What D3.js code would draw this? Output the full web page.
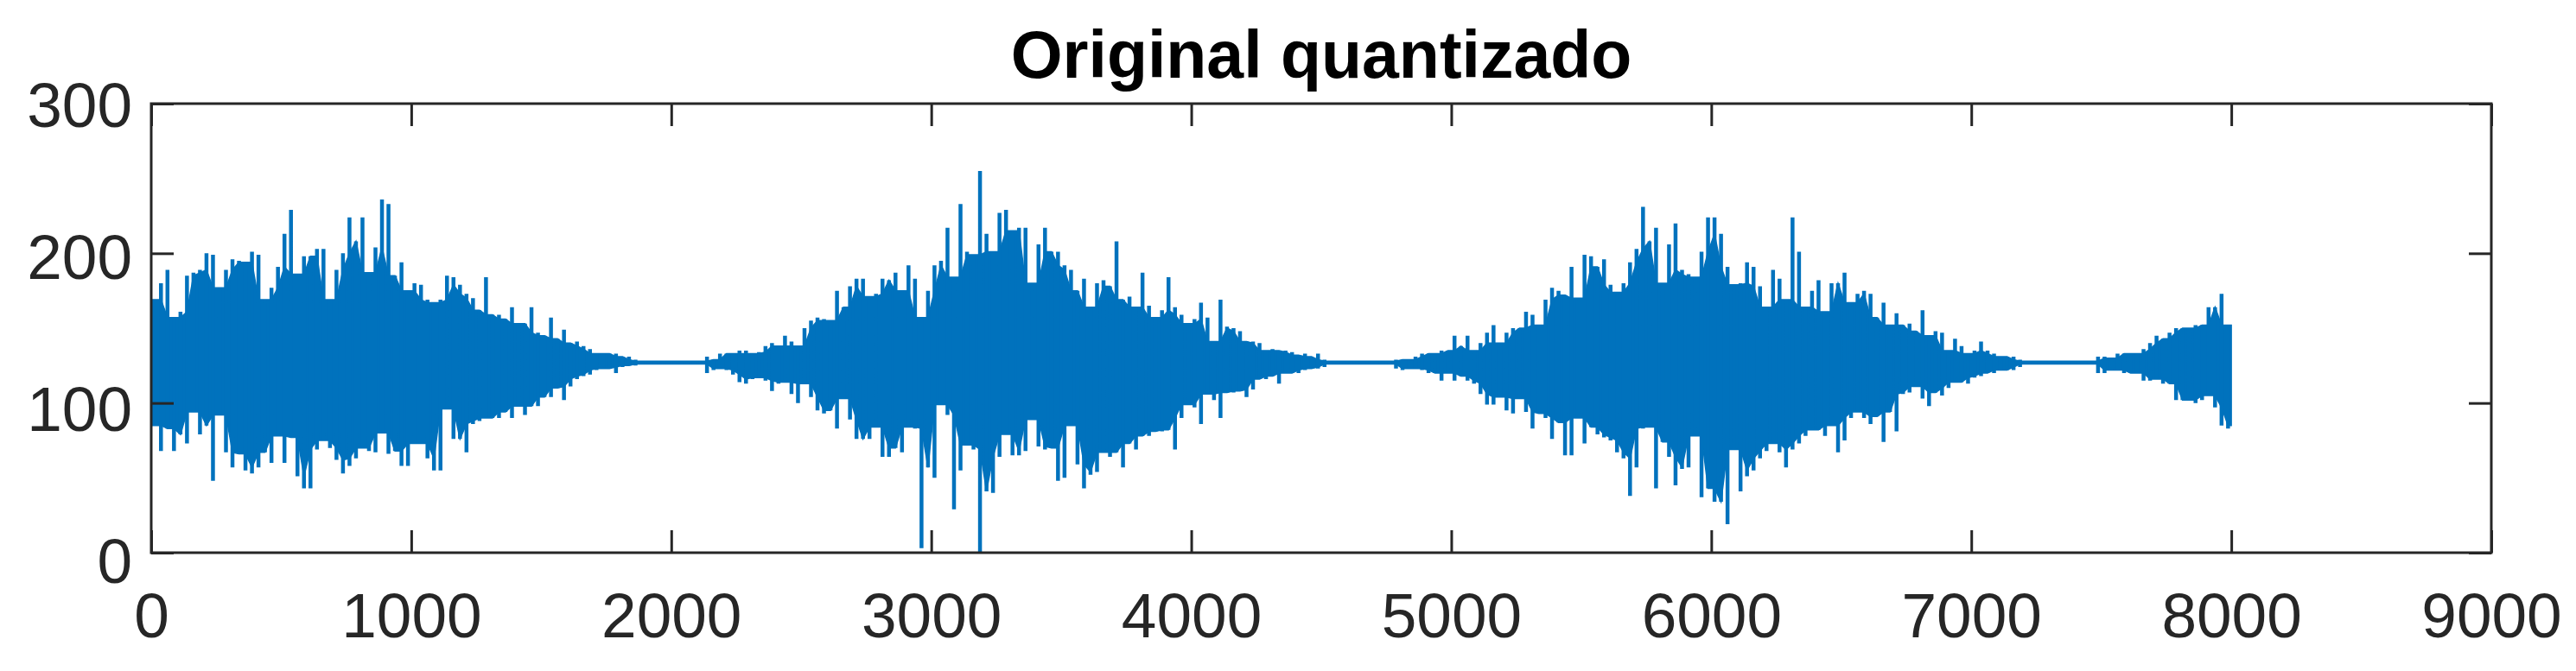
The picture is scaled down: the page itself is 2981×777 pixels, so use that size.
<!DOCTYPE html>
<html>
<head>
<meta charset="utf-8">
<script src="https://cdn.jsdelivr.net/npm/d3@7"></script>
<style>
  html, body { margin: 0; padding: 0; background: #ffffff; }
  svg { display: block; }
</style>
</head>
<body>
<svg id="chart" width="2981" height="777"></svg>
<script>
// ---------------- DATA ----------------
const titleText = "Original quantizado";
const xTicks = [0, 1000, 2000, 3000, 4000, 5000, 6000, 7000, 8000, 9000];
const yTicks = [0, 100, 200, 300];
const xDomain = [0, 9000];
const yDomain = [0, 300];
// the 8000-sample signal is summarised as max / min per block of samples
const samplesPerBlock = 25;
const blockMax = [
169,180,189,157,161,185,187,189,200,199,177,189,196,195,194,201,199,169,177,191,
213,229,186,198,198,203,203,169,189,200,224,208,224,187,204,236,233,185,194,175,
180,179,169,167,169,185,184,179,173,170,162,184,159,159,156,164,153,153,164,147,
145,157,143,149,140,141,138,136,133,133,133,133,131,131,129,128,128,128,128,128,
128,128,128,128,128,131,129,133,133,133,135,135,133,134,138,140,138,145,141,138,
150,155,157,156,155,175,164,178,183,183,171,173,183,182,187,175,192,183,157,175,
192,195,217,184,233,201,199,255,213,201,227,229,215,217,217,180,206,217,201,201,
192,189,175,183,164,180,182,178,208,169,171,164,187,165,157,162,184,164,159,153,
156,167,157,141,169,151,150,148,141,141,140,135,136,135,135,134,132,133,131,133,
129,128,128,128,128,128,128,128,128,128,128,129,129,129,131,133,133,133,135,135,
145,138,145,135,140,147,152,140,147,150,150,161,159,152,169,177,175,172,191,170,
199,198,191,196,179,174,180,194,203,231,208,217,180,206,220,189,186,184,201,224,
224,213,191,179,180,194,191,178,164,189,183,169,224,201,164,175,182,161,180,180,
187,167,173,175,173,157,167,152,160,152,153,148,162,145,148,147,135,143,138,133,
135,141,135,133,131,131,131,129,128,128,128,128,128,128,128,128,128,128,128,131,
131,130,133,133,133,133,136,140,145,143,147,150,150,150,152,152,164,164,173,152
];
const blockMin = [
85,68,83,68,79,73,94,79,85,48,92,67,57,66,55,53,57,67,60,78,
60,77,51,43,43,69,75,70,62,53,58,63,70,68,67,80,66,68,58,58,
73,73,63,55,55,96,76,76,67,86,88,90,90,90,94,90,98,92,98,98,
104,104,110,102,111,116,118,119,122,123,123,120,124,125,125,126,126,126,126,126,
126,126,126,126,126,120,122,123,122,119,114,113,116,117,115,108,113,114,106,100,
113,104,95,93,95,83,103,89,76,76,76,84,64,64,70,67,84,83,3,57,
50,99,92,29,55,72,69,0,41,40,64,79,65,65,68,89,71,69,70,48,
50,85,59,43,52,54,67,64,67,57,73,69,78,78,81,81,82,69,90,99,
97,86,106,102,90,107,107,108,104,109,116,116,118,113,120,120,120,122,123,123,
124,126,126,126,126,126,126,126,126,126,126,123,122,123,123,122,120,120,115,120,
115,118,115,113,106,99,99,104,95,93,103,94,83,93,90,76,87,65,65,90,
73,84,79,77,75,67,63,38,57,83,84,43,74,64,45,56,57,78,37,43,
34,34,19,69,41,51,55,63,68,73,67,57,69,73,78,82,82,78,85,67,
75,90,94,90,86,91,74,94,81,106,107,111,103,98,107,105,110,114,114,113,
117,118,120,120,122,122,122,124,126,126,126,126,126,126,126,126,126,126,126,120,
120,122,122,120,120,120,115,115,116,113,113,102,102,102,100,102,105,97,85,83
];

// ---------------- LAYOUT ----------------
const W = 2981, H = 777;
const plot = { left: 175, top: 120, right: 2883, bottom: 640 };
const colors = { line: "#0072BD", axis: "#262626", title: "#000000" };
const fontFamily = "'Liberation Sans', Arial, Helvetica, sans-serif";
const tickLen = 26;

const svg = d3.select("#chart");
svg.append("rect").attr("width", W).attr("height", H).attr("fill", "#ffffff");

const x = d3.scaleLinear().domain(xDomain).range([plot.left, plot.right]);
const y = d3.scaleLinear().domain(yDomain).range([plot.bottom, plot.top]);

// ---------------- SIGNAL ----------------
const blocks = blockMax.map((hi, i) => ({
  n: i * samplesPerBlock + samplesPerBlock / 2,
  hi: hi,
  lo: blockMin[i]
}));

// dense body of the waveform: the smallest excursion among neighbouring blocks
const body = blocks.map((b, i) => {
  const nb = blocks.slice(Math.max(0, i - 1), Math.min(blocks.length, i + 2));
  return { n: b.n, hi: d3.min(nb, d => d.hi), lo: d3.max(nb, d => d.lo) };
});
body.unshift({ n: 0, hi: body[0].hi, lo: body[0].lo });
body.push({ n: blocks.length * samplesPerBlock, hi: body[body.length - 1].hi, lo: body[body.length - 1].lo });

const area = d3.area()
  .x(d => x(d.n))
  .y0(d => y(d.lo))
  .y1(d => y(d.hi))
  .curve(d3.curveLinear);

svg.append("path")
  .datum(body)
  .attr("d", area)
  .attr("fill", colors.line)
  .attr("stroke", colors.line)
  .attr("stroke-width", 1.5);

// individual excursions of each block (thin vertical strokes)
const spikes = d3.path();
blocks.forEach(b => {
  const xs = x(b.n);
  spikes.moveTo(xs, y(b.lo));
  spikes.lineTo(xs, y(b.hi));
});
svg.append("path")
  .attr("d", spikes.toString())
  .attr("fill", "none")
  .attr("stroke", colors.line)
  .attr("stroke-width", 4.5);

// ---------------- AXES (MATLAB box style, ticks inward) ----------------
const axisG = svg.append("g");

function styleAxis(g) {
  g.select(".domain").remove();
  g.selectAll(".tick line").attr("stroke", colors.axis).attr("stroke-width", 3);
  g.selectAll(".tick text")
    .attr("fill", colors.axis)
    .attr("font-family", fontFamily)
    .attr("font-size", 73);
}

const gBottom = axisG.append("g")
  .attr("transform", `translate(0,${plot.bottom})`)
  .call(d3.axisBottom(x).tickValues(xTicks).tickFormat(d3.format("d"))
    .tickSizeInner(-tickLen).tickSizeOuter(0).tickPadding(0));
styleAxis(gBottom);
gBottom.selectAll(".tick text").attr("y", 98).attr("dy", null);

const gTop = axisG.append("g")
  .attr("transform", `translate(0,${plot.top})`)
  .call(d3.axisTop(x).tickValues(xTicks).tickFormat("")
    .tickSizeInner(-tickLen).tickSizeOuter(0));
styleAxis(gTop);

const gLeft = axisG.append("g")
  .attr("transform", `translate(${plot.left},0)`)
  .call(d3.axisLeft(y).tickValues(yTicks).tickFormat(d3.format("d"))
    .tickSizeInner(-tickLen).tickSizeOuter(0).tickPadding(0));
styleAxis(gLeft);
gLeft.selectAll(".tick text")
  .attr("x", -22)
  .attr("dy", null)
  .attr("y", d => 26 + (yDomain[1] - d) / yDomain[1] * 8);

const gRight = axisG.append("g")
  .attr("transform", `translate(${plot.right},0)`)
  .call(d3.axisRight(y).tickValues(yTicks).tickFormat("")
    .tickSizeInner(-tickLen).tickSizeOuter(0));
styleAxis(gRight);

axisG.append("rect")
  .attr("x", plot.left).attr("y", plot.top)
  .attr("width", plot.right - plot.left).attr("height", plot.bottom - plot.top)
  .attr("fill", "none").attr("stroke", colors.axis).attr("stroke-width", 3);

// ---------------- TITLE ----------------
svg.append("text")
  .attr("x", (plot.left + plot.right) / 2)
  .attr("y", 90)
  .attr("text-anchor", "middle")
  .attr("font-family", fontFamily)
  .attr("font-weight", "bold")
  .attr("font-size", 77)
  .attr("fill", colors.title)
  .text(titleText);
</script>
</body>
</html>
